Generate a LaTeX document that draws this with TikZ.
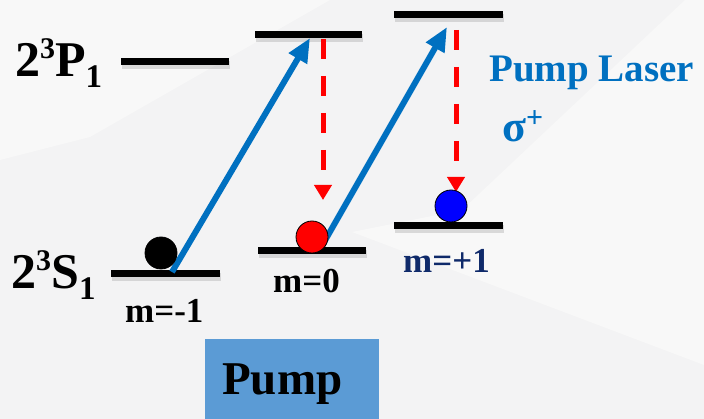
\documentclass[tikz,border=0pt]{standalone}
\usepackage{fontspec}
\setmainfont{Liberation Serif}
\usetikzlibrary{arrows.meta}
\definecolor{bggray}{HTML}{F3F3F4}
\definecolor{bglight}{HTML}{F8F8F8}
\definecolor{arrowblue}{HTML}{0070C0}
\definecolor{boxblue}{HTML}{5B9BD5}
\definecolor{navy}{HTML}{0F2A6A}
\begin{document}
\begin{tikzpicture}[x=1pt,y=-1pt,
  level/.style={line width=7pt, black},
  lvlshadow/.style={line width=8pt, black, opacity=0.12},
  pumparrow/.style={draw=arrowblue, line width=6pt, -{Triangle[length=24pt,width=20pt]}},
  decay/.style={draw=red, line width=5pt, dash pattern=on 20pt off 17pt, -{Triangle[length=15pt,width=17pt]}},
  ball/.style={circle, draw=black, line width=0.8pt, minimum size=32pt, inner sep=0pt},
  lbl/.style={anchor=base west, inner sep=0pt, font=\bfseries\fontsize{50}{50}\selectfont},
  mlbl/.style={anchor=base west, inner sep=0pt, font=\bfseries\fontsize{35}{35}\selectfont},
  bluetxt/.style={anchor=base west, inner sep=0pt, text=arrowblue, font=\bfseries\fontsize{39}{39}\selectfont}]
\useasboundingbox (0,0) rectangle (704,419);
% background
\fill[bggray] (0,0) rectangle (704,419);
\fill[bglight] (0,0) -- (330,0) -- (90,137) -- (0,160) -- cycle;
\fill[bglight] (685,0) -- (704,0) -- (704,365) -- (352,232) -- (462,210) -- cycle;
% level end points
\coordinate (pl-w) at (121,62);  \coordinate (pl-e) at (229,62);
\coordinate (pm-w) at (255,35);  \coordinate (pm-e) at (362,35);
\coordinate (pr-w) at (394,15);  \coordinate (pr-e) at (503,15);
\coordinate (sl-w) at (111,274); \coordinate (sl-e) at (220,274);
\coordinate (sm-w) at (258,251); \coordinate (sm-e) at (366,251);
\coordinate (sr-w) at (394,226); \coordinate (sr-e) at (503,226);
\foreach \l in {pl,pm,pr,sl,sm,sr}{
  \draw[lvlshadow] ([shift={(1,3)}]\l-w) -- ([shift={(1,3)}]\l-e);
  \draw[level] (\l-w) -- (\l-e);
}
% arrow end points
\coordinate (a1-s) at (172,272);
\coordinate (a1-e) at (310,38);
\coordinate (a2-s) at (323,244);
\coordinate (a2-e) at (447,27);
\coordinate (d1-s) at (323,39);
\coordinate (d1-e) at (323,200);
\coordinate (d2-s) at (456,30);
\coordinate (d2-e) at (456,192);
% pump arrows
\draw[pumparrow] (a1-s) -- (a1-e);
\draw[pumparrow] (a2-s) -- (a2-e);
% decay arrows
\draw[decay] (d1-s) -- (d1-e);
\draw[decay] (d2-s) -- (d2-e);
% balls
\node[ball, fill=black] (ballk) at (161,253) {};
\node[ball, fill=red] (ballr) at (312,237) {};
\node[ball, fill=blue] (ballb) at (451,206) {};
% level labels
\node[lbl] (plabel) at (15,77) {2\raisebox{18pt}{\fontsize{30}{30}\selectfont 3}P\raisebox{-11pt}{\fontsize{33}{33}\selectfont 1}};
\node[lbl] (slabel) at (11,289) {2\raisebox{18pt}{\fontsize{30}{30}\selectfont 3}S\raisebox{-11pt}{\fontsize{33}{33}\selectfont 1}};
\node[mlbl] (m1) at (125,323) {m=-1};
\node[mlbl] (m0) at (273,293) {m=0};
\node[mlbl, text=navy] (mp1) at (403,273) {m=+1};
% laser label
\node[bluetxt] (laser) at (489,82) {Pump Laser};
\node[bluetxt, font=\bfseries\fontsize{44}{44}\selectfont] (sigma) at (502,142) {σ\raisebox{14pt}{\fontsize{30}{30}\selectfont +}};
% pump box
\fill[boxblue] (205,339) rectangle (379,419);
\node[lbl, font=\bfseries\fontsize{47}{47}\selectfont] (pump) at (222,395) {Pump};
\end{tikzpicture}
\end{document}
